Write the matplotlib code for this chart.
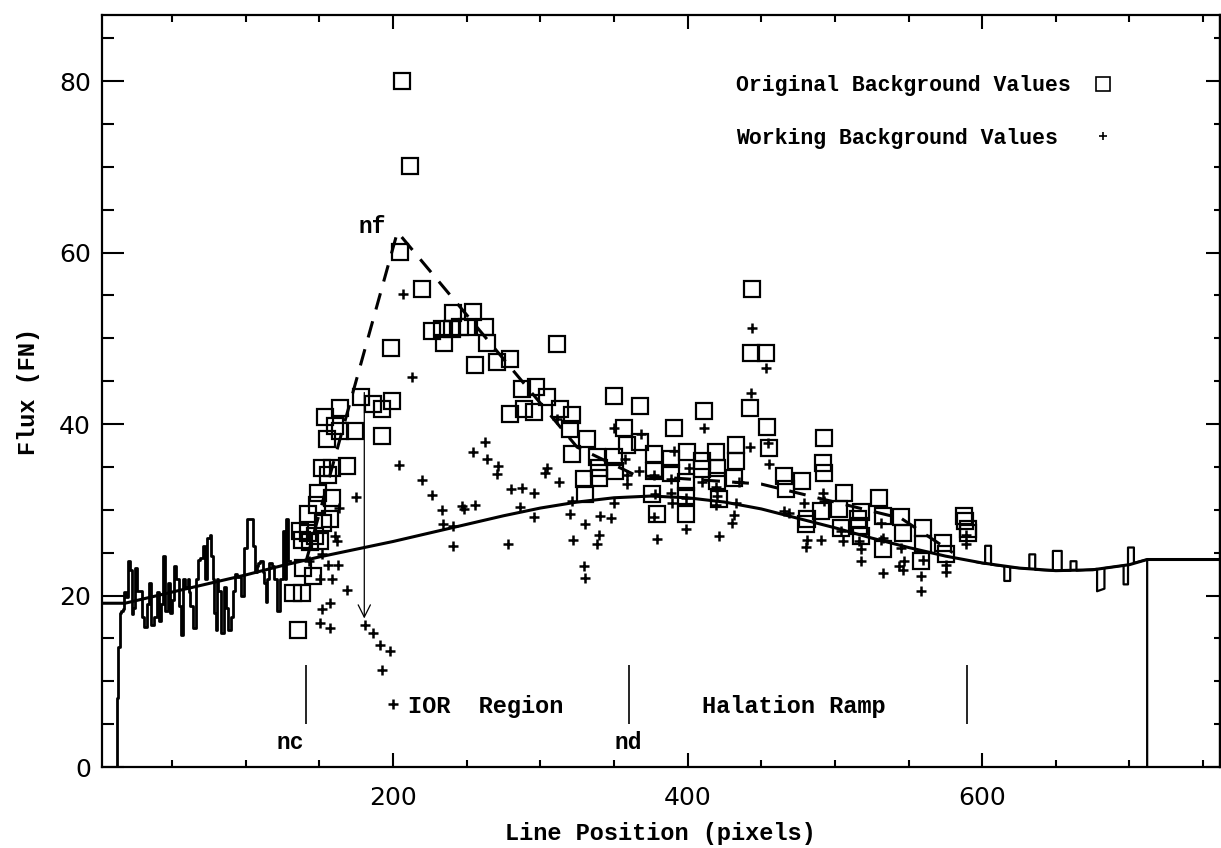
import matplotlib
matplotlib.use("Agg")
import matplotlib.pyplot as plt

# raw background profile, left end (noisy part)
raw_x = [12, 13, 14, 15, 16, 17, 18, 19, 21, 22, 23, 24, 26, 27, 29, 30, 32, 34, 35, 37,
         39, 40, 42, 43, 45, 46, 48, 49, 51, 52, 54, 55, 57, 58, 60, 61, 62, 63, 65, 67,
         68, 70, 72, 73, 75, 76, 77, 78, 79, 80, 81, 82, 84, 86, 87, 89, 91, 92, 93, 95,
         98, 100, 102, 104, 106, 107, 108, 109, 111, 112, 113, 114, 115, 117, 119, 120, 122, 124, 126, 127,
         128, 130]
raw_y = [0, 8, 14, 18, 18.2, 18.4, 20.4, 19.8, 24.0, 23.0, 17.8, 18.5, 23.2, 20.5, 20.5, 17.5, 16.3, 19.0, 21.5, 16.6,
         17.5, 20.4, 17.0, 19.0, 24.6, 18.2, 21.5, 18.0, 19.5, 23.5, 21.9, 18.8, 15.4, 21.9, 21.0, 21.9, 20.4, 18.8, 16.2, 21.9,
         24.2, 24.4, 25.8, 21.9, 26.7, 27.0, 24.6, 21.9, 18.0, 16.0, 21.9, 20.5, 15.6, 21.0, 18.5, 16.0, 17.5, 20.5, 22.5, 22.2,
         20.0, 25.5, 28.9, 28.9, 25.8, 22.7, 23.5, 23.8, 24.0, 22.7, 21.5, 19.3, 21.9, 23.8, 23.5, 21.9, 18.2, 21.9, 27.5, 21.9,
         28.9, 24.0]

# raw background profile, right end
tail_x = [596, 602, 602, 606, 606, 615, 615, 619, 619, 632, 632, 636, 636, 648, 648, 654, 654,
          660, 660, 664, 664, 678, 678, 683, 683, 696, 696, 699, 699, 703, 703, 712, 712]
tail_y = [23.9, 23.7, 25.8, 25.8, 23.6, 23.4, 21.7, 21.7, 23.3, 23.1, 24.8, 24.8, 23.0, 22.9, 25.2, 25.2, 22.9,
          22.9, 24.0, 24.0, 22.9, 23.1, 20.5, 20.8, 23.2, 23.5, 21.3, 21.3, 25.6, 25.6, 23.8, 24.2, 0]

# smooth background fit
fit_x = [2, 18, 50, 75, 100, 125, 150, 175, 200, 225, 250, 275, 300, 325, 350, 375, 400, 425,
         450, 475, 500, 525, 550, 575, 600, 625, 650, 675, 700, 712, 762]
fit_y = [19.1, 19.1, 20.4, 21.4, 22.4, 23.5, 24.5, 25.4, 26.3, 27.3, 28.3, 29.3, 30.2, 30.9, 31.4, 31.6, 31.4, 30.9,
         30.1, 29.0, 27.9, 26.7, 25.6, 24.6, 23.8, 23.2, 22.9, 23.0, 23.6, 24.2, 24.2]

# dashed IOR / halation outline
ramp_x = [141, 203, 325, 365, 450, 545, 580]
ramp_y = [24.0, 62.4, 37.3, 34.0, 33.0, 29.0, 25.0]

orig_x = [206.0, 211.6, 204.8, 219.5, 198.6, 241.0, 254.6, 226.3, 233.0, 240.0, 245.6, 250.0, 234.7, 262.6,
          263.7, 255.8, 270.5, 279.6, 311.3, 287.5, 297.0, 304.5, 279.6, 288.6, 295.4, 313.6, 321.6, 320.4,
          331.7, 178.0, 186.6, 192.3, 199.0, 163.9, 153.7, 160.5, 174.1, 192.3, 154.9, 163.9, 151.5, 158.3,
          168.5, 156.0, 149.2, 158.3, 148.1, 142.4, 157.1, 152.6, 136.7, 142.4, 147.0, 137.9, 143.5, 150.3,
          139.0, 145.8, 132.2, 137.9, 135.6, 444.0, 442.9, 453.0, 350.0, 368.0, 411.0, 442.2, 454.2, 390.7,
          357.1, 492.3, 368.0, 358.9, 455.3, 321.6, 338.5, 349.8, 377.1, 399.8, 419.0, 432.7, 432.7, 410.0,
          388.4, 491.6, 492.7, 339.7, 351.0, 377.1, 388.4, 410.0, 420.2, 431.5, 465.5, 478.0, 329.5, 339.7,
          398.6, 420.2, 466.7, 506.3, 530.0, 330.6, 375.9, 398.6, 421.3, 502.9, 490.5, 481.4, 515.9, 532.4,
          379.4, 398.6, 480.3, 517.7, 532.4, 504.0, 516.5, 545.0, 546.0, 559.7, 559.7, 558.5, 573.3, 575.5,
          587.5, 588.0, 590.2, 590.2, 517.7]
orig_y = [80.0, 70.1, 60.1, 55.8, 48.9, 52.9, 53.1, 50.9, 51.1, 51.1, 51.3, 51.3, 49.4, 51.3,
          49.5, 46.9, 47.2, 47.6, 49.3, 44.1, 44.3, 43.1, 41.2, 41.8, 41.4, 41.8, 41.0, 39.4,
          38.2, 43.1, 42.3, 41.8, 42.7, 41.9, 40.8, 39.8, 39.2, 38.6, 38.2, 39.2, 34.9, 34.9,
          35.1, 34.0, 32.0, 31.4, 30.6, 29.5, 28.9, 28.5, 27.5, 27.3, 26.9, 26.5, 26.2, 26.4,
          23.2, 22.3, 20.3, 20.3, 16.0, 55.8, 48.3, 48.3, 43.3, 42.1, 41.5, 41.9, 39.6, 39.5,
          39.5, 38.4, 37.9, 37.5, 37.2, 36.5, 36.1, 36.1, 36.5, 36.7, 36.7, 37.6, 35.7, 35.7,
          35.9, 35.5, 34.3, 34.9, 34.5, 34.5, 34.3, 34.7, 34.9, 33.7, 33.9, 33.4, 33.6, 33.7,
          33.2, 33.4, 32.4, 32.0, 31.4, 31.8, 31.8, 31.6, 31.2, 30.1, 29.9, 28.9, 28.9, 29.3,
          29.5, 29.5, 28.3, 26.9, 25.4, 27.9, 28.1, 29.1, 27.3, 27.9, 26.0, 24.0, 26.1, 24.8,
          29.3, 28.7, 27.7, 27.3, 29.7]

work_x = [151.5, 156.0, 162.8, 150.3, 158.3, 168.5, 151.5, 157.1, 150.3, 157.1, 181.0, 186.6, 191.2, 198.0,
          192.3, 199.7, 174.8, 163.5, 160.5, 161.7, 142.9, 204.0, 206.5, 212.7, 262.6, 254.6, 263.7, 271.2,
          270.5, 219.5, 226.3, 233.1, 234.2, 240.6, 246.7, 248.3, 255.8, 241.0, 278.4, 280.3, 287.6, 295.9,
          304.5, 303.4, 312.4, 286.4, 295.4, 321.6, 320.4, 330.6, 322.2, 329.5, 330.1, 453.0, 442.9, 444.0,
          411.0, 349.9, 368.5, 442.4, 454.6, 455.3, 311.3, 390.7, 357.8, 366.9, 359.0, 359.0, 400.9, 377.1,
          388.4, 410.0, 419.0, 434.9, 388.4, 378.2, 398.6, 420.2, 432.7, 349.9, 389.6, 419.0, 340.4, 348.3,
          377.1, 431.5, 430.4, 421.3, 379.4, 398.6, 339.7, 338.5, 465.5, 469.0, 479.1, 491.6, 492.7, 481.4,
          480.3, 490.5, 505.2, 504.0, 517.7, 517.7, 532.4, 531.3, 543.5, 531.3, 516.5, 545.0, 547.2, 546.0,
          558.5, 558.5, 559.7, 575.5, 575.5, 589.1, 589.1, 532.4]
work_y = [24.8, 23.6, 23.6, 21.9, 21.9, 20.7, 18.4, 19.1, 16.8, 16.2, 16.6, 15.6, 14.2, 13.5,
          11.3, 7.4, 31.5, 30.2, 26.9, 26.4, 24.0, 35.2, 55.2, 45.5, 37.9, 36.7, 35.9, 35.1,
          34.2, 33.5, 31.7, 30.0, 28.3, 28.1, 30.4, 30.1, 30.5, 25.8, 26.0, 32.4, 32.5, 32.0,
          34.9, 34.3, 33.2, 30.3, 29.1, 31.0, 29.5, 28.3, 26.5, 23.5, 22.1, 46.5, 43.6, 51.2,
          39.5, 39.5, 38.8, 37.3, 37.8, 35.3, 40.6, 36.9, 35.9, 34.5, 34.0, 33.0, 34.9, 34.0,
          33.6, 33.2, 32.7, 33.2, 32.0, 31.8, 31.4, 31.6, 30.8, 30.8, 30.8, 30.6, 29.3, 29.0,
          29.1, 29.4, 28.4, 26.9, 26.6, 27.7, 27.1, 26.0, 29.9, 29.6, 30.8, 32.0, 31.0, 26.5,
          25.7, 26.5, 26.4, 27.5, 25.4, 24.0, 22.6, 26.5, 23.4, 28.5, 26.4, 25.6, 24.0, 23.0,
          22.3, 20.5, 24.2, 23.6, 22.8, 27.1, 26.0, 26.7]

# region boundaries nc, nd and end of halation ramp
bound_x = [141, 360, 590]
bound_lo, bound_hi = 5.0, 11.9
# arrow from the IOR start down to the working values
arrow_x, arrow_top, arrow_bot = 180.5, 44.0, 17.0

mono = "Liberation Mono"

fig = plt.figure(figsize=(12.21, 8.48), dpi=100)
ax = fig.add_axes([0.0835, 0.0955, 0.9155, 0.8868])

ax.plot(raw_x, raw_y, color="black", lw=2.0, drawstyle="steps-mid")
ax.plot(tail_x, tail_y, color="black", lw=1.6)
ax.plot(fit_x, fit_y, color="black", lw=2.2)
ax.plot(ramp_x, ramp_y, color="black", lw=2.2, dashes=(5.5, 4))

sq, = ax.plot(orig_x, orig_y, ls="none", marker="s", ms=11, mfc="none", mec="black", mew=1.6,
              label="Original Background Values")
# trailing blank keeps the monospaced labels left-aligned, as in the original
pl, = ax.plot(work_x, work_y, ls="none", marker="+", ms=7, color="black", mew=1.8,
              label="Working Background Values ")

ax.vlines(bound_x, bound_lo, bound_hi, color="black", lw=1.2)
ax.annotate("", xy=(arrow_x, arrow_bot), xytext=(arrow_x, arrow_top),
            arrowprops=dict(arrowstyle="->", lw=0.9, color="black", mutation_scale=22))

txt = dict(family=mono, weight="bold", ha="center", va="center")
ax.text(130, 2.9, "nc", fontsize=16.5, **txt)
ax.text(360, 2.9, "nd", fontsize=16.5, **txt)
ax.text(186, 63.0, "nf", fontsize=16.5, **txt)
ax.text(262.6, 7.1, "IOR  Region", fontsize=17, **txt)
ax.text(472, 7.1, "Halation Ramp", fontsize=17, **txt)

leg = ax.legend(handles=[sq, pl], loc="upper right", bbox_to_anchor=(0.905, 0.920), frameon=False,
                markerfirst=False, handlelength=1.0, handletextpad=1.0, labelspacing=1.48,
                borderpad=0, borderaxespad=0, prop={"family": mono, "weight": "bold", "size": 15.5})
leg.legend_handles[0].set_markersize(9.5)
leg.legend_handles[0].set_markeredgewidth(1.2)
leg.legend_handles[1].set_markersize(6)
leg.legend_handles[1].set_markeredgewidth(1.2)

ax.set_xlim(2.4, 761.3)
ax.set_ylim(0, 87.7)
ax.set_xticks([200, 400, 600])
ax.set_xticks(range(50, 761, 50), minor=True)
ax.set_yticks([0, 20, 40, 60, 80])
ax.set_yticks(range(5, 88, 5), minor=True)

for s in ax.spines.values():
    s.set_linewidth(1.6)
ax.tick_params(axis="x", which="both", direction="in", top=True, width=1.5,
               labelsize=18, pad=14)
ax.tick_params(axis="x", which="major", length=10)
ax.tick_params(axis="x", which="minor", length=5)
ax.tick_params(axis="y", which="both", direction="in", width=1.5, labelsize=18, pad=8)
ax.tick_params(axis="y", which="major", length=16)
ax.tick_params(axis="y", which="minor", length=8.5)

# right-hand axis carries shorter ticks
ry = ax.secondary_yaxis("right")
ry.set_yticks([0, 20, 40, 60, 80])
ry.set_yticks(range(5, 88, 5), minor=True)
ry.tick_params(which="both", direction="in", width=1.5, labelright=False)
ry.tick_params(which="major", length=10)
ry.tick_params(which="minor", length=4)
ry.spines["right"].set_linewidth(1.6)

ax.set_xlabel("Line Position (pixels)", family=mono, weight="bold", fontsize=17, labelpad=8)
ax.set_ylabel("Flux (FN)", family=mono, weight="bold", fontsize=17, labelpad=14)

fig.savefig("out.png", dpi=100)
